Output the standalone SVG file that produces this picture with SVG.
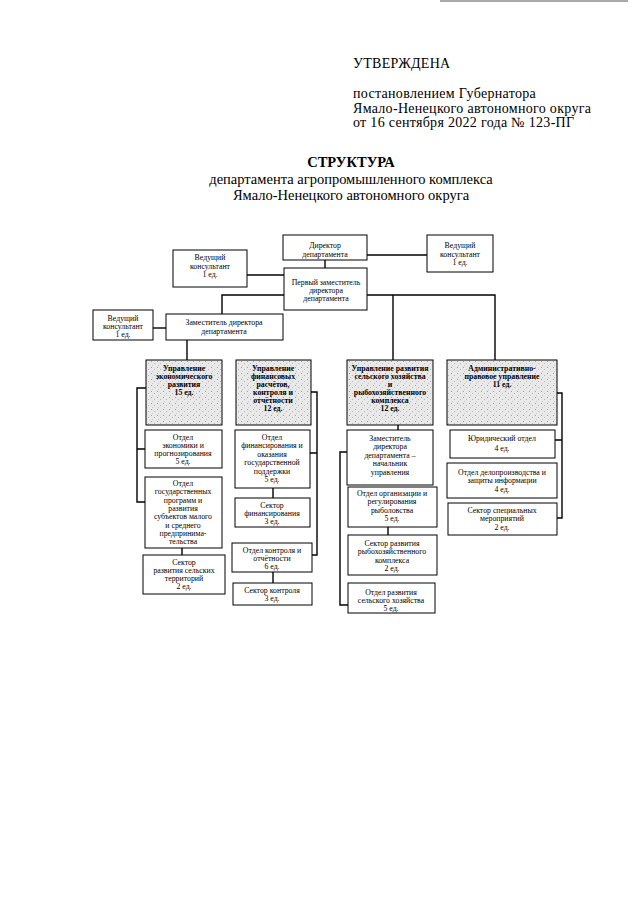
<svg xmlns="http://www.w3.org/2000/svg" width="640" height="905" viewBox="0 0 640 905">
<defs>
<pattern id="stip" width="6" height="6" patternUnits="userSpaceOnUse">
<rect width="6" height="6" fill="#e9e9e9"/>
<rect x="1" y="1" width="1" height="1" fill="#a0a0a0"/>
<rect x="4" y="3" width="1" height="1" fill="#b8b8b8"/>
<rect x="2" y="5" width="1" height="1" fill="#c8c8c8"/>
</pattern>
</defs>
<style>
.hdr{font-family:"Liberation Serif","DejaVu Serif",serif;font-size:14px;letter-spacing:0.3px;fill:#000}
.ttl{font-family:"Liberation Serif","DejaVu Serif",serif;font-size:14.5px;fill:#000;text-anchor:middle}
.box rect{fill:#fff;stroke:#000;stroke-width:1}
.dept rect{fill:url(#stip);stroke:#000;stroke-width:1}
.box text,.dept text{font-family:"Liberation Serif","DejaVu Serif",serif;font-size:7.8px;fill:#000;text-anchor:middle}
.dept text{font-weight:bold}
#connectors path{fill:none;stroke:#000;stroke-width:1.4}
</style>
<rect width="640" height="905" fill="#fff"/>
<line x1="440" y1="1" x2="628" y2="1" stroke="#555" stroke-width="1.2"/>

<g id="header">
<text class="hdr" x="353" y="68" font-size="15">УТВЕРЖДЕНА</text>
<text class="hdr" x="353" y="98">постановлением Губернатора</text>
<text class="hdr" x="353" y="112.5">Ямало-Ненецкого автономного округа</text>
<text class="hdr" x="353" y="127">от 16 сентября 2022 года № 123-ПГ</text>
</g>
<g id="title">
<text class="ttl" x="351" y="167" font-weight="bold">СТРУКТУРА</text>
<text class="ttl" x="351" y="184">департамента агропромышленного комплекса</text>
<text class="ttl" x="351" y="200">Ямало-Ненецкого автономного округа</text>
</g>

<g id="connectors">
<path d="M325,260 V268"/>
<path d="M367,255 H427"/>
<path d="M247,275 H284"/>
<path d="M284,295 H222 V314"/>
<path d="M367,295 H495 V360"/>
<path d="M393,295 V360"/>
<path d="M153,328 H166"/>
<path d="M187,340 V360"/>
<path d="M146,388 H137 V502 H145 M137,449 H145"/>
<path d="M182,548 V555"/>
<path d="M311,392 H317 V555 H312 M317,453 H310"/>
<path d="M273,488 V498"/>
<path d="M273,572 V583"/>
<path d="M398,425 V430"/>
<path d="M347,452 H340 V605 H348"/>
<path d="M388,527 V535"/>
<path d="M557,393 H562 V518 H557 M562,440 H555"/>
</g>

<g id="director" class="box"><rect x="283" y="235" width="84" height="25"/>
<text x="325" y="248">Директор</text><text x="325" y="257">департамента</text></g>
<g id="consultant-right" class="box"><rect x="427" y="235" width="66" height="37"/>
<text x="460" y="248">Ведущий</text><text x="460" y="257">консультант</text><text x="460" y="265">1 ед.</text></g>
<g id="consultant-left" class="box"><rect x="173" y="250" width="74" height="37"/>
<text x="210" y="260">Ведущий</text><text x="210" y="269">консультант</text><text x="210" y="277">1 ед.</text></g>
<g id="first-deputy" class="box"><rect x="284" y="268" width="83" height="42"/>
<text x="326" y="285">Первый заместитель</text><text x="326" y="293">директора</text><text x="326" y="301">департамента</text></g>
<g id="consultant-2" class="box"><rect x="93" y="310" width="60" height="30"/>
<text x="123" y="321">Ведущий</text><text x="123" y="329">консультант</text><text x="123" y="337">1 ед.</text></g>
<g id="deputy" class="box"><rect x="166" y="314" width="117" height="26"/>
<text x="224" y="325">Заместитель директора</text><text x="224" y="334">департамента</text></g>

<g id="dept-econ" class="dept"><rect x="146" y="360" width="76" height="65"/>
<text x="184" y="371">Управление</text><text x="184" y="379">экономического</text><text x="184" y="387">развития</text><text x="184" y="395">15 ед.</text></g>
<g id="dept-fin" class="dept"><rect x="236" y="360" width="75" height="65"/>
<text x="273" y="371">Управление</text><text x="273" y="379">финансовых</text><text x="273" y="387">расчётов,</text><text x="273" y="395">контроля и</text><text x="273" y="403">отчётности</text><text x="273" y="411">12 ед.</text></g>
<g id="dept-agri" class="dept"><rect x="347" y="360" width="86" height="65"/>
<text x="390" y="371">Управление развития</text><text x="390" y="379">сельского хозяйства</text><text x="390" y="387">и</text><text x="390" y="395">рыбохозяйственного</text><text x="390" y="403">комплекса</text><text x="390" y="411">12 ед.</text></g>
<g id="dept-admin" class="dept"><rect x="447" y="360" width="110" height="65"/>
<text x="502" y="371">Административно-</text><text x="502" y="379">правовое управление</text><text x="502" y="387">11 ед.</text></g>

<g id="c1a" class="box"><rect x="145" y="430" width="77" height="38"/>
<text x="183" y="440">Отдел</text><text x="183" y="448">экономики и</text><text x="183" y="456">прогнозирования</text><text x="183" y="464">5 ед.</text></g>
<g id="c1b" class="box"><rect x="145" y="477" width="77" height="71"/>
<text x="183" y="486">Отдел</text><text x="183" y="494">государственных</text><text x="183" y="503">программ и</text><text x="183" y="511">развития</text><text x="183" y="519">субъектов малого</text><text x="183" y="528">и среднего</text><text x="183" y="536">предпринима-</text><text x="183" y="544">тельства</text></g>
<g id="c1c" class="box"><rect x="143" y="555" width="82" height="39"/>
<text x="184" y="565">Сектор</text><text x="184" y="573">развития сельских</text><text x="184" y="581">территорий</text><text x="184" y="589">2 ед.</text></g>

<g id="c2a" class="box"><rect x="235" y="430" width="75" height="58"/>
<text x="272" y="440">Отдел</text><text x="272" y="448">финансирования и</text><text x="272" y="457">оказания</text><text x="272" y="465">государственной</text><text x="272" y="474">поддержки</text><text x="272" y="482">5 ед.</text></g>
<g id="c2b" class="box"><rect x="235" y="498" width="75" height="29"/>
<text x="272" y="508">Сектор</text><text x="272" y="516">финансирования</text><text x="272" y="524">3 ед.</text></g>
<g id="c2c" class="box"><rect x="232" y="543" width="80" height="29"/>
<text x="272" y="553">Отдел контроля и</text><text x="272" y="561">отчётности</text><text x="272" y="569">6 ед.</text></g>
<g id="c2d" class="box"><rect x="233" y="583" width="79" height="22"/>
<text x="272" y="593">Сектор контроля</text><text x="272" y="601">3 ед.</text></g>

<g id="c3a" class="box"><rect x="347" y="430" width="86" height="55"/>
<text x="390" y="441">Заместитель</text><text x="390" y="449">директора</text><text x="390" y="458">департамента –</text><text x="390" y="466">начальник</text><text x="390" y="475">управления</text></g>
<g id="c3b" class="box"><rect x="348" y="487" width="89" height="40"/>
<text x="392" y="496">Отдел организации и</text><text x="392" y="504">регулирования</text><text x="392" y="513">рыболовства</text><text x="392" y="521">5 ед.</text></g>
<g id="c3c" class="box"><rect x="348" y="535" width="89" height="40"/>
<text x="392" y="546">Сектор развития</text><text x="392" y="554">рыбохозяйственного</text><text x="392" y="563">комплекса</text><text x="392" y="571">2 ед.</text></g>
<g id="c3d" class="box"><rect x="348" y="583" width="87" height="30"/>
<text x="391" y="595">Отдел развития</text><text x="391" y="603">сельского хозяйства</text><text x="391" y="611">5 ед.</text></g>

<g id="c4a" class="box"><rect x="450" y="430" width="105" height="28"/>
<text x="502" y="441">Юридический отдел</text><text x="502" y="451">4 ед.</text></g>
<g id="c4b" class="box"><rect x="447" y="463" width="110" height="35"/>
<text x="502" y="475">Отдел делопроизводства и</text><text x="502" y="483">защиты информации</text><text x="502" y="492">4 ед.</text></g>
<g id="c4c" class="box"><rect x="448" y="503" width="109" height="32"/>
<text x="502" y="513">Сектор специальных</text><text x="502" y="521">мероприятий</text><text x="502" y="530">2 ед.</text></g>
</svg>
